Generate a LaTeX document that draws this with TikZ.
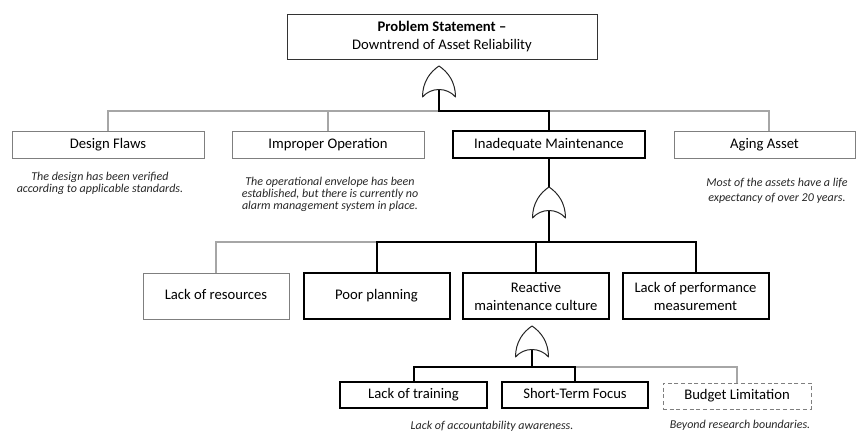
\documentclass[tikz,border=0pt]{standalone}
\usepackage{fontspec}
\setmainfont{Carlito}
\begin{document}
\begin{tikzpicture}[x=0.75pt,y=-0.75pt,
  box/.style={draw=boxgray,line width=0.75pt,rectangle,inner sep=0pt,align=center,
    font=\fontsize{11}{13.5}\selectfont},
  one/.style={text height=7.6pt,text depth=2.2pt},
  hbox/.style={box,draw=black,line width=1.5pt},
  dbox/.style={box,draw=boxgray,dashed,dash pattern=on 3pt off 2pt},
  gline/.style={draw=linegray,line width=0.8pt},
  hline/.style={draw=black,line width=1.5pt},
  gate/.style={draw=black!85,line width=0.75pt,fill=white,line join=round},
  note/.style={align=center,inner sep=0pt,font=\fontsize{9}{8.7}\selectfont\itshape,text=black!85},
]
\definecolor{boxgray}{HTML}{7F7F7F}
\definecolor{linegray}{HTML}{A6A6A6}
\useasboundingbox (0,0) rectangle (856,432);

% ---------- boxes ----------
\node[box,draw=black!80,minimum width=310*0.75pt,minimum height=45*0.75pt] (top) at (442,36.5)
  {\textbf{Problem Statement –}\\Downtrend of Asset Reliability};

\node[box,one,minimum width=192*0.75pt,minimum height=27*0.75pt] (design) at (108,144.5) {Design Flaws};
\node[box,one,minimum width=192*0.75pt,minimum height=27*0.75pt] (improper) at (328,144.5) {Improper Operation};
\node[hbox,one,minimum width=192*0.75pt,minimum height=27*0.75pt] (inadequate) at (549,144.5) {Inadequate Maintenance};
\node[box,one,minimum width=181*0.75pt,minimum height=27*0.75pt] (aging) at (764.5,144.5) {Aging Asset};

\node[box,one,minimum width=146*0.75pt,minimum height=46*0.75pt] (resources) at (216,296) {Lack of resources};
\node[hbox,one,minimum width=146*0.75pt,minimum height=46*0.75pt] (poor) at (376.5,296) {Poor planning};
\node[hbox,minimum width=146*0.75pt,minimum height=46*0.75pt] (reactive) at (536,296) {Reactive\\maintenance culture};
\node[hbox,minimum width=146*0.75pt,minimum height=46*0.75pt] (perf) at (695.5,296) {Lack of performance\\measurement};

\node[hbox,one,minimum width=147*0.75pt,minimum height=26*0.75pt] (training) at (413.5,395) {Lack of training};
\node[hbox,one,minimum width=146*0.75pt,minimum height=26*0.75pt] (short) at (575,395) {Short-Term Focus};
\node[dbox,one,minimum width=148*0.75pt,minimum height=26*0.75pt] (budget) at (737,396) {Budget Limitation};

% ---------- notes ----------
\node[note] (ndesign) at (100,183.5) {The design has been verified\\according to applicable standards.};
\node[note] (nimproper) at (330,194.3) {The operational envelope has been\\established, but there is currently no\\alarm management system in place.};
\node[note,font=\fontsize{9}{11.3}\selectfont\itshape] (naging) at (777,190.8) {Most of the assets have a life\\expectancy of over 20 years.};
\node[note] (ntraining) at (492,426) {Lack of accountability awareness.};
\node[note] (nbudget) at (740,425) {Beyond research boundaries.};

% ---------- gate coordinates ----------
\coordinate (g1s) at (439,89.5);
\coordinate (g2s) at (549,210.5);
\coordinate (g3s) at (532,349.5);

\coordinate (bus1) at (0,111);
\coordinate (bus2) at (0,242);
\coordinate (bus3) at (0,367);
\coordinate (agtop) at (769,131);

% ---------- connectors level 1 ----------
\draw[gline] (design.north) |- (agtop |- bus1) -- (agtop);
\draw[gline] (improper.north) -- (improper.north |- bus1);
\draw[hline] (g1s) -- (g1s |- bus1) -| (inadequate.north);

% ---------- level 2 ----------
\draw[hline] (inadequate.south) -- (g2s);
\draw[gline] (resources.north) |- (poor.north |- bus2);
\draw[hline] (g2s) -- (g2s |- bus2);
\draw[hline] (poor.north) |- (perf.north |- bus2) -- (perf.north);
\draw[hline] (reactive.north) -- (reactive.north |- bus2);

% ---------- level 3 ----------
\draw[gline] (short.north |- bus3) -| (budget.north);
\draw[hline] (g3s) -- (g3s |- bus3);
\draw[hline] (training.north) |- (short.north |- bus3) -- (short.north);

% ---------- gates ----------
\newcommand{\orgate}[2]{%
  \draw[gate] (#1-16.5,#2) .. controls (#1-16.5,#2-15) and (#1-9,#2-25) .. (#1,#2-31)
     .. controls (#1+9,#2-25) and (#1+16.5,#2-15) .. (#1+16.5,#2)
     .. controls (#1+8,#2-10) and (#1-8,#2-10) .. cycle;}
\orgate{439}{97}
\orgate{549}{218}
\orgate{532}{357}
\end{tikzpicture}
\end{document}
